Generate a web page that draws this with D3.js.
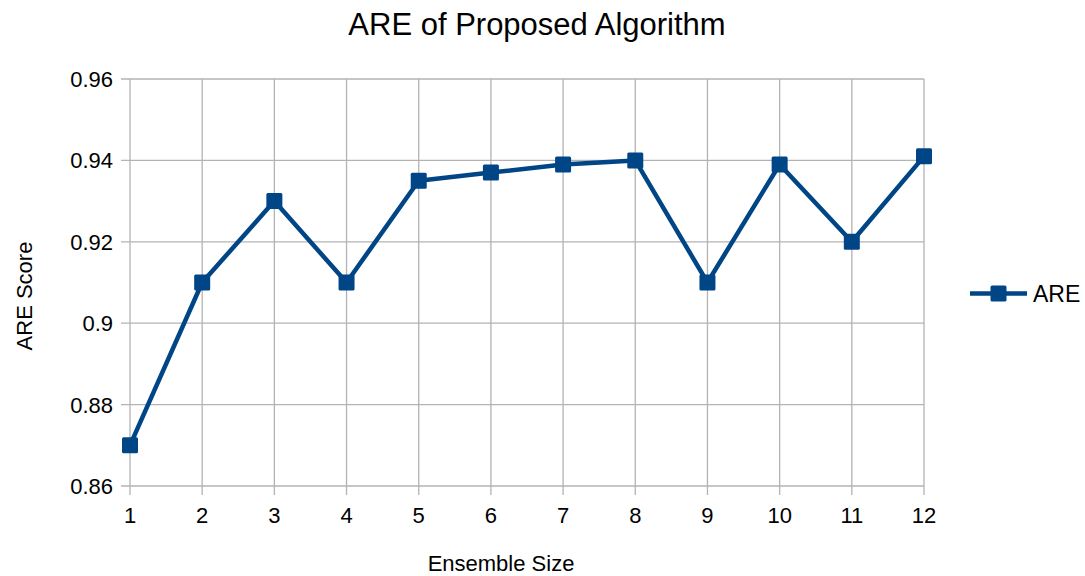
<!DOCTYPE html>
<html><head><meta charset="utf-8">
<script src="https://cdn.jsdelivr.net/npm/d3@7"></script>
<style>body{margin:0;background:#fff;}svg{font-family:"Liberation Sans",Arial,sans-serif;}</style>
</head><body><svg id="c" width="1085" height="576"></svg>
<script>
const categories = [1,2,3,4,5,6,7,8,9,10,11,12];
const areValues = [0.87,0.91,0.93,0.91,0.935,0.937,0.939,0.94,0.91,0.939,0.92,0.941];
const yTicks = [0.86,0.88,0.9,0.92,0.94,0.96];
const yTickLabels = ["0.86","0.88","0.9","0.92","0.94","0.96"];
const seriesName = "ARE";
const color = "#004586";

const svg = d3.select("#c");
const L=130, R=924, T=79, B=486;
const x = d3.scaleLinear().domain([1,12]).range([L,R]);
const y = d3.scaleLinear().domain([0.86,0.96]).range([B,T]);

// grid
svg.append("g").selectAll("line").data(yTicks).join("line")
  .attr("x1",L-9).attr("x2",R).attr("y1",d=>y(d)).attr("y2",d=>y(d))
  .attr("stroke","#b3b3b3").attr("stroke-width",1.3);
svg.append("g").selectAll("line").data(categories).join("line")
  .attr("x1",d=>x(d)).attr("x2",d=>x(d)).attr("y1",T).attr("y2",B+9)
  .attr("stroke","#b3b3b3").attr("stroke-width",1.3);

// y labels
svg.append("g").selectAll("text").data(yTicks).join("text")
  .attr("x",L-17).attr("y",d=>y(d)).attr("dy","0.36em").attr("text-anchor","end")
  .attr("font-size",22).attr("fill","#000").text((d,i)=>yTickLabels[i]);
// x labels
svg.append("g").selectAll("text").data(categories).join("text")
  .attr("x",d=>x(d)).attr("y",B+37).attr("text-anchor","middle")
  .attr("font-size",22).attr("fill","#000").text(d=>d);

// line
const line = d3.line().x((d,i)=>x(categories[i])).y(d=>y(d));
svg.append("path").datum(areValues).attr("d",line).attr("fill","none")
  .attr("stroke",color).attr("stroke-width",4.5).attr("stroke-linejoin","round");
const ms=16;
svg.append("g").selectAll("rect").data(areValues).join("rect")
  .attr("x",(d,i)=>x(categories[i])-ms/2).attr("y",d=>y(d)-ms/2)
  .attr("width",ms).attr("height",ms).attr("rx",1.5).attr("fill",color);

// title
svg.append("text").attr("x",537).attr("y",35).attr("text-anchor","middle")
  .attr("font-size",31).attr("fill","#000").text("ARE of Proposed Algorithm");
// axis titles
svg.append("text").attr("x",501).attr("y",571).attr("text-anchor","middle")
  .attr("font-size",22).attr("fill","#000").text("Ensemble Size");
svg.append("text").attr("transform","translate(32,296) rotate(-90)").attr("text-anchor","middle")
  .attr("font-size",22).attr("fill","#000").text("ARE Score");

// legend
const ly=293.5;
svg.append("line").attr("x1",970).attr("x2",1027).attr("y1",ly).attr("y2",ly)
  .attr("stroke",color).attr("stroke-width",4.5);
svg.append("rect").attr("x",998.5-ms/2).attr("y",ly-ms/2).attr("width",ms).attr("height",ms).attr("rx",1.5).attr("fill",color);
svg.append("text").attr("x",1033).attr("y",ly).attr("dy","0.36em").attr("font-size",23).attr("fill","#000").text(seriesName);
</script></body></html>
